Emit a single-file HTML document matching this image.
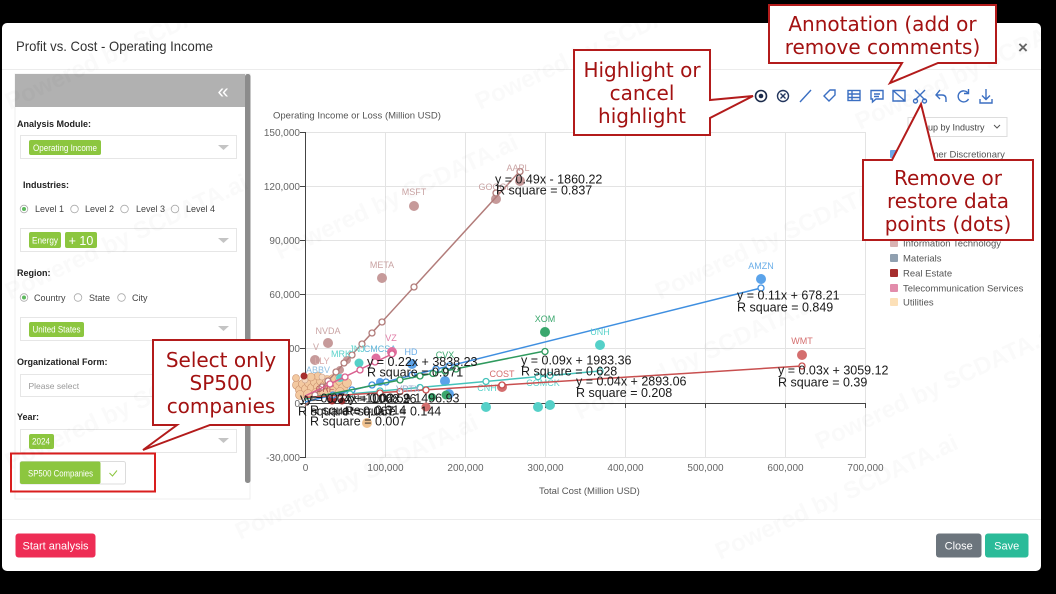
<!DOCTYPE html>
<html><head><meta charset="utf-8">
<style>
html,body{margin:0;padding:0;background:#000;width:1056px;height:594px;overflow:hidden}
svg{display:block}
text{font-family:"Liberation Sans",Arial,sans-serif}
.co{font-family:"DejaVu Sans","Liberation Sans",sans-serif;font-size:20px;fill:#a31212;text-anchor:middle}
.lb{font-size:9px;font-weight:bold;fill:#222}
.rt{font-size:9px;fill:#444}
.tk{font-size:10px;fill:#666}
.eq{font-size:12.5px;fill:#1a1a1a}
.tg{font-size:9px;fill:#fff}
.wm{font-family:"Liberation Serif",serif;font-weight:bold;font-size:24px;fill:#000;opacity:0.022}
.lg{font-size:9.5px;fill:#555}
</style></head><body>
<svg width="1056" height="594" viewBox="0 0 1056 594" xmlns="http://www.w3.org/2000/svg">
<rect x="0" y="0" width="1056" height="594" fill="#000"/>
<rect x="2" y="23" width="1039" height="548" rx="5" fill="#fff"/>

<!-- header -->
<text x="16" y="51" font-size="14" fill="#333" textLength="197" lengthAdjust="spacingAndGlyphs">Profit vs. Cost - Operating Income</text>
<text x="1023" y="53" font-size="17" font-weight="bold" fill="#666" text-anchor="middle">×</text>
<line x1="2" y1="69.5" x2="1041" y2="69.5" stroke="#ececec"/>
<line x1="2" y1="519.5" x2="1041" y2="519.5" stroke="#ececec"/>

<!-- left panel -->
<rect x="15" y="74" width="235" height="425" fill="#fff" stroke="#efefef"/>
<rect x="15" y="74" width="230" height="33" fill="#b1b1b1"/>
<text x="223" y="98" font-size="20" fill="#fff" text-anchor="middle">«</text>
<rect x="245" y="74" width="5.5" height="409" rx="2.5" fill="#8c8c8c"/>

<text x="17" y="127" class="lb">Analysis Module:</text>
<rect x="20.5" y="135.5" width="216" height="23" fill="#fff" stroke="#e6e6e6"/>
<rect x="29" y="140" width="72" height="15" rx="2" fill="#8cc63f"/>
<text x="33" y="151" class="tg" textLength="64" lengthAdjust="spacingAndGlyphs">Operating Income</text>
<path d="M218,145 L229,145 L223.5,150 Z" fill="#c4c4c4"/>

<text x="23" y="188" class="lb">Industries:</text>
<circle cx="24" cy="209" r="3.8" fill="#fff" stroke="#aaa" stroke-width="0.8"/><circle cx="24" cy="209" r="2" fill="#5cb85c"/>
<text x="35" y="212" class="rt">Level 1</text>
<circle cx="74.5" cy="209" r="3.8" fill="#fff" stroke="#aaa" stroke-width="0.8"/>
<text x="85" y="212" class="rt">Level 2</text>
<circle cx="124.5" cy="209" r="3.8" fill="#fff" stroke="#aaa" stroke-width="0.8"/>
<text x="136" y="212" class="rt">Level 3</text>
<circle cx="175" cy="209" r="3.8" fill="#fff" stroke="#aaa" stroke-width="0.8"/>
<text x="186" y="212" class="rt">Level 4</text>
<rect x="20.5" y="228.5" width="216" height="23" fill="#fff" stroke="#e6e6e6"/>
<rect x="29" y="232" width="32" height="16" rx="2" fill="#8cc63f"/>
<text x="32" y="243.5" class="tg" textLength="26" lengthAdjust="spacingAndGlyphs">Energy</text>
<rect x="65" y="232" width="32" height="16" rx="2" fill="#8cc63f"/>
<text x="81" y="245" font-size="12.5" fill="#fff" text-anchor="middle">+ 10</text>
<path d="M218,238 L229,238 L223.5,243 Z" fill="#c4c4c4"/>

<text x="17" y="276" class="lb">Region:</text>
<circle cx="24" cy="297.5" r="3.8" fill="#fff" stroke="#aaa" stroke-width="0.8"/><circle cx="24" cy="297.5" r="2" fill="#5cb85c"/>
<text x="34" y="301" class="rt">Country</text>
<circle cx="78" cy="297.5" r="3.8" fill="#fff" stroke="#aaa" stroke-width="0.8"/>
<text x="89" y="301" class="rt">State</text>
<circle cx="121.5" cy="297.5" r="3.8" fill="#fff" stroke="#aaa" stroke-width="0.8"/>
<text x="132" y="301" class="rt">City</text>
<rect x="20.5" y="317.5" width="216" height="23" fill="#fff" stroke="#e6e6e6"/>
<rect x="29" y="322" width="55" height="15" rx="2" fill="#8cc63f"/>
<text x="32.5" y="332.5" class="tg" textLength="48" lengthAdjust="spacingAndGlyphs">United States</text>
<path d="M218,326 L229,326 L223.5,331 Z" fill="#c4c4c4"/>

<text x="17" y="365" class="lb">Organizational Form:</text>
<rect x="20.5" y="374.5" width="216" height="22" fill="#fff" stroke="#e6e6e6"/>
<text x="28.5" y="389" font-size="8.5" fill="#999">Please select</text>

<text x="17" y="420" class="lb">Year:</text>
<rect x="20.5" y="429.5" width="216" height="23" fill="#fff" stroke="#e6e6e6"/>
<rect x="29" y="434" width="25" height="15" rx="2" fill="#8cc63f"/>
<text x="32" y="444.5" class="tg" textLength="18" lengthAdjust="spacingAndGlyphs">2024</text>
<path d="M218,438 L229,438 L223.5,443 Z" fill="#c4c4c4"/>

<rect x="20" y="461.5" width="105.5" height="22.5" rx="2" fill="#fff" stroke="#dcdcdc"/>
<rect x="20" y="461.5" width="80.5" height="22.5" rx="2" fill="#8cc63f"/>
<text x="28" y="476.5" font-size="9" fill="#fff" textLength="65" lengthAdjust="spacingAndGlyphs">SP500 Companies</text>
<path d="M109.5,473 L112.5,476 L117,470.5" fill="none" stroke="#8cc63f" stroke-width="1"/>
<rect x="11" y="453.5" width="144" height="38" fill="none" stroke="#d91e1e" stroke-width="2"/>

<!-- footer buttons -->
<rect x="15.5" y="533.5" width="80" height="24" rx="3" fill="#ee2d55"/>
<text x="55.5" y="549.5" font-size="11" fill="#fff" text-anchor="middle">Start analysis</text>
<rect x="936" y="533.5" width="45.5" height="24" rx="3" fill="#6c757d"/>
<text x="958.7" y="549.5" font-size="11" fill="#fff" text-anchor="middle">Close</text>
<rect x="985" y="533.5" width="43.5" height="24" rx="3" fill="#2bbb99"/>
<text x="1006.7" y="549.5" font-size="11" fill="#fff" text-anchor="middle">Save</text>

<!-- chart grid -->
<g stroke="#e3e3e3" stroke-width="1">
<line x1="305.5" y1="132.5" x2="866" y2="132.5"/>
<line x1="305.5" y1="186.5" x2="866" y2="186.5"/>
<line x1="305.5" y1="240.5" x2="866" y2="240.5"/>
<line x1="305.5" y1="294.5" x2="866" y2="294.5"/>
<line x1="305.5" y1="348.5" x2="866" y2="348.5"/>
<line x1="305.5" y1="457.5" x2="866" y2="457.5"/>
<line x1="385.5" y1="132" x2="385.5" y2="457"/>
<line x1="465.5" y1="132" x2="465.5" y2="457"/>
<line x1="545.5" y1="132" x2="545.5" y2="457"/>
<line x1="625.5" y1="132" x2="625.5" y2="457"/>
<line x1="705.5" y1="132" x2="705.5" y2="457"/>
<line x1="785.5" y1="132" x2="785.5" y2="457"/>
<line x1="865.5" y1="132" x2="865.5" y2="457"/>
</g>
<g stroke="#444" stroke-width="1">
<line x1="305.5" y1="132" x2="305.5" y2="458"/>
<line x1="305" y1="403.5" x2="866" y2="403.5"/>
<line x1="300" y1="132.5" x2="305" y2="132.5"/>
<line x1="300" y1="186.5" x2="305" y2="186.5"/>
<line x1="300" y1="240.5" x2="305" y2="240.5"/>
<line x1="300" y1="294.5" x2="305" y2="294.5"/>
<line x1="300" y1="348.5" x2="305" y2="348.5"/>
<line x1="300" y1="403.5" x2="305" y2="403.5"/>
<line x1="300" y1="457.5" x2="305" y2="457.5"/>
<line x1="385.5" y1="403" x2="385.5" y2="408"/>
<line x1="465.5" y1="403" x2="465.5" y2="408"/>
<line x1="545.5" y1="403" x2="545.5" y2="408"/>
<line x1="625.5" y1="403" x2="625.5" y2="408"/>
<line x1="705.5" y1="403" x2="705.5" y2="408"/>
<line x1="785.5" y1="403" x2="785.5" y2="408"/>
<line x1="865.5" y1="403" x2="865.5" y2="408"/>
</g>
<g class="tk" text-anchor="end">
<text x="300" y="136">150,000</text>
<text x="300" y="190">120,000</text>
<text x="300" y="244">90,000</text>
<text x="300" y="298">60,000</text>
<text x="300" y="352">30,000</text>
<text x="300" y="407">0</text>
<text x="300" y="461">-30,000</text>
</g>
<g class="tk" text-anchor="middle">
<text x="305.5" y="471">0</text>
<text x="385.5" y="471">100,000</text>
<text x="465.5" y="471">200,000</text>
<text x="545.5" y="471">300,000</text>
<text x="625.5" y="471">400,000</text>
<text x="705.5" y="471">500,000</text>
<text x="785.5" y="471">600,000</text>
<text x="865.5" y="471">700,000</text>
</g>
<text x="273" y="118.5" font-size="9.5" fill="#555">Operating Income or Loss (Million USD)</text>
<text x="539" y="494" font-size="9.5" fill="#555">Total Cost (Million USD)</text>

<!-- toolbar -->
<g fill="none" stroke="#3b6fc2" stroke-width="1.4">
<circle cx="761" cy="96" r="5.5" stroke="#1b2a4a" stroke-width="1.6"/>
<circle cx="761" cy="96" r="2.3" fill="#1b2a4a" stroke="none"/>
<circle cx="783" cy="96" r="5.5" stroke="#23365e"/>
<path d="M780.5,93.5 L785.5,98.5 M785.5,93.5 L780.5,98.5" stroke="#23365e"/>
<path d="M800,102 L811,90"/>
<path d="M824,96 L830,90 L835,90 L835,95 L829,101 Z"/>
<rect x="848" y="90.5" width="12" height="10"/>
<path d="M848,94 H860 M848,97.5 H860 M852,90.5 V100.5"/>
<path d="M871,90.5 H883 V99 H876 L872.5,102 V99 H871 Z"/>
<path d="M874,94 H880 M874,96.5 H879"/>
<path d="M893,90.5 H905 V101 H893 Z M893,90.5 L905,101"/>
<path d="M915,90 L925,100 M925,90 L915,100"/>
<circle cx="915.5" cy="101" r="2"/><circle cx="924.5" cy="101" r="2"/>
<path d="M940,90 L936,95 L940,99 M936,95 H942 Q946,95 946,99 V102"/>
<path d="M968,93 A5.5,5.5 0 1 0 968.5,99"/>
<path d="M968.5,89 V93.5 H964"/>
<path d="M986,89 V99 M982,95.5 L986,99.5 L990,95.5 M980,99 V103 H992 V99"/>
</g>

<!-- group by dropdown -->
<rect x="908" y="117.5" width="99" height="19" fill="#fff" stroke="#ddd"/>
<text x="913" y="130.5" font-size="9" fill="#444">Group by Industry</text>
<path d="M994,125 L997,128 L1000,125" fill="none" stroke="#555" stroke-width="1"/>

<!-- legend -->
<g class="lg">
<rect x="890" y="150" width="8" height="8" rx="1" fill="#6aa8e8"/><text x="903" y="157.5">Consumer Discretionary</text>
<rect x="890" y="165" width="8" height="8" rx="1" fill="#d46e6e"/><text x="903" y="172.5">Consumer Staples</text>
<rect x="890" y="180" width="8" height="8" rx="1" fill="#3aa76d"/><text x="903" y="187.5">Energy</text>
<rect x="890" y="195" width="8" height="8" rx="1" fill="#8a6fc0"/><text x="903" y="202.5">Financials</text>
<rect x="890" y="209" width="8" height="8" rx="1" fill="#52d1c8"/><text x="903" y="216.5">Health Care</text>
<rect x="890" y="224" width="8" height="8" rx="1" fill="#7fb3d5"/><text x="903" y="231.5">Industrials</text>
<rect x="890" y="239" width="8" height="8" rx="1" fill="#d9b3b3"/><text x="903" y="246.5">Information Technology</text>
<rect x="890" y="254" width="8" height="8" rx="1" fill="#90a0b0"/><text x="903" y="261.5">Materials</text>
<rect x="890" y="269" width="8" height="8" rx="1" fill="#a62e2e"/><text x="903" y="276.5">Real Estate</text>
<rect x="890" y="284" width="8" height="8" rx="1" fill="#e28cab"/><text x="903" y="291.5">Telecommunication Services</text>
<rect x="890" y="298" width="8" height="8" rx="1" fill="#fce0b8"/><text x="903" y="305.5">Utilities</text>
</g>

<!-- data: peach cluster near origin -->
<g fill="#f3c9a0" stroke="#c98f6c" stroke-width="0.6">
<circle cx="297" cy="385" r="4.5"/><circle cx="300" cy="390" r="4.5"/><circle cx="303" cy="384" r="4.5"/>
<circle cx="306" cy="389" r="4.5"/><circle cx="309" cy="383" r="4.5"/><circle cx="312" cy="388" r="4.5"/>
<circle cx="315" cy="382" r="4.5"/><circle cx="318" cy="387" r="4.5"/><circle cx="321" cy="381" r="4.5"/>
<circle cx="324" cy="386" r="4.5"/><circle cx="327" cy="380" r="4.5"/><circle cx="330" cy="385" r="4.5"/>
<circle cx="333" cy="379" r="4.5"/><circle cx="336" cy="386" r="4.5"/><circle cx="340" cy="381" r="4.5"/>
<circle cx="343" cy="388" r="4.5"/><circle cx="347" cy="383" r="4.5"/><circle cx="300" cy="395" r="4.5"/>
<circle cx="308" cy="394" r="4.5"/><circle cx="316" cy="393" r="4.5"/><circle cx="324" cy="392" r="4.5"/>
<circle cx="332" cy="391" r="4.5"/><circle cx="340" cy="392" r="4.5"/><circle cx="296" cy="378" r="3.5"/>
<circle cx="318" cy="376" r="4"/><circle cx="311" cy="377" r="4"/><circle cx="367" cy="423" r="5" stroke="none" fill="#f0c290"/>
</g>
<g fill="#f6d9c0" stroke="#caa08a" stroke-width="0.6">
<circle cx="305" cy="380" r="3"/><circle cx="322" cy="377" r="3"/><circle cx="338" cy="378" r="3"/><circle cx="313" cy="398" r="3"/>
</g>
<!-- dark red / real estate -->
<circle cx="332" cy="400" r="4.5" fill="#a62e2e"/><circle cx="342" cy="401" r="3.5" fill="#8f2a2a"/>
<circle cx="304" cy="376" r="3.5" fill="#a62e2e"/>

<!-- Info Tech -->
<g fill="#c69a9a">
<circle cx="520" cy="181" r="5"/><circle cx="496" cy="199" r="5"/><circle cx="414" cy="206" r="5"/>
<circle cx="382" cy="278" r="5"/><circle cx="328" cy="343" r="5"/><circle cx="315" cy="360" r="5"/>
<circle cx="347" cy="360" r="4"/><circle cx="340" cy="370" r="4"/>
</g>
<line x1="305" y1="406" x2="520" y2="171" stroke="#b27c7a" stroke-width="1.5"/>
<g fill="#fff" stroke="#b27c7a" stroke-width="1.3">
<circle cx="520" cy="171.5" r="3"/><circle cx="496" cy="193" r="3"/><circle cx="414" cy="287" r="3"/>
<circle cx="382" cy="322" r="3"/><circle cx="372" cy="333" r="3"/><circle cx="362" cy="344" r="3"/>
<circle cx="352" cy="355" r="3"/><circle cx="344" cy="363" r="3"/><circle cx="336" cy="372" r="3"/>
<circle cx="328" cy="381" r="3"/><circle cx="322" cy="387" r="3"/><circle cx="315" cy="395" r="3"/>
</g>
<g font-size="9" fill="#c9a3a3" text-anchor="middle">
<text x="518" y="171">AAPL</text><text x="495" y="190">GOOGL</text><text x="414" y="195">MSFT</text>
<text x="382" y="268">META</text><text x="328" y="334">NVDA</text><text x="316" y="350">V</text>
</g>

<!-- Consumer Discretionary -->
<g fill="#5ba3ea">
<circle cx="761" cy="279" r="5"/><circle cx="412" cy="364" r="5"/><circle cx="445" cy="381" r="5"/>
<circle cx="449" cy="394" r="5"/><circle cx="380" cy="382" r="4"/>
</g>
<line x1="305" y1="402" x2="761" y2="288" stroke="#3f8fe0" stroke-width="1.5"/>
<g fill="#fff" stroke="#3f8fe0" stroke-width="1.3">
<circle cx="761" cy="288" r="3"/><circle cx="449" cy="366" r="3"/><circle cx="436" cy="369" r="3"/>
<circle cx="412" cy="375" r="3"/><circle cx="386" cy="382" r="3"/><circle cx="372" cy="385" r="3"/>
<circle cx="352" cy="390" r="3"/><circle cx="333" cy="395" r="3"/>
</g>
<g font-size="9" fill="#6aaee8" text-anchor="middle">
<text x="761" y="269">AMZN</text><text x="411" y="355">HD</text>
</g>

<!-- Energy -->
<g fill="#3aa76d">
<circle cx="545" cy="332" r="5"/><circle cx="446" cy="395" r="4.5"/><circle cx="432" cy="397" r="4"/>
</g>
<line x1="305" y1="399" x2="545" y2="351" stroke="#2f9a5e" stroke-width="1.5"/>
<g fill="#fff" stroke="#2f9a5e" stroke-width="1.3">
<circle cx="545" cy="351.5" r="3"/><circle cx="456" cy="369" r="3"/><circle cx="445" cy="371" r="3"/>
<circle cx="433" cy="373.5" r="3"/><circle cx="420" cy="376" r="3"/><circle cx="400" cy="380" r="3"/>
</g>
<g font-size="9" fill="#3aa76d" text-anchor="middle">
<text x="545" y="322">XOM</text><text x="445" y="358">CVX</text>
</g>

<!-- Health Care -->
<g fill="#55d0c8">
<circle cx="600" cy="345" r="5"/><circle cx="486" cy="407" r="5"/><circle cx="538" cy="407" r="5"/>
<circle cx="550" cy="405" r="5"/><circle cx="359" cy="363" r="4.5"/><circle cx="340" cy="378" r="4"/>
</g>
<line x1="305" y1="398" x2="600" y2="371" stroke="#45c3bb" stroke-width="1.5"/>
<g fill="#fff" stroke="#45c3bb" stroke-width="1.3">
<circle cx="600" cy="371" r="3"/><circle cx="550" cy="375.5" r="3"/><circle cx="538" cy="376.7" r="3"/>
<circle cx="486" cy="381.5" r="3"/><circle cx="420" cy="387.5" r="3"/><circle cx="380" cy="391" r="3"/>
<circle cx="350" cy="394" r="3"/>
</g>
<g font-size="9" fill="#5bd3cb" text-anchor="middle">
<text x="600" y="335">UNH</text><text x="487" y="391">CNH</text><text x="543" y="386">COMCK</text>
<text x="341" y="357">MRK</text><text x="357" y="352">JNJ</text><text x="380" y="352" fill="#5fb5d8">CMCSA</text>
<text x="322" y="364" fill="#d9a9a9">LLY</text><text x="318" y="373" fill="#8fbfe0">ABBV</text>
</g>

<!-- Consumer Staples -->
<g fill="#d46e6e">
<circle cx="802" cy="355" r="5"/><circle cx="502" cy="387" r="5"/><circle cx="426" cy="407" r="4.5"/>
</g>
<line x1="305" y1="397.5" x2="802" y2="366" stroke="#c84f4f" stroke-width="1.5"/>
<g fill="#fff" stroke="#c84f4f" stroke-width="1.3">
<circle cx="802" cy="366" r="3"/><circle cx="502" cy="385" r="3"/><circle cx="426" cy="390" r="3"/>
<circle cx="400" cy="391.5" r="3"/><circle cx="380" cy="393" r="3"/>
</g>
<g font-size="9" fill="#d46e6e" text-anchor="middle">
<text x="802" y="344">WMT</text><text x="502" y="377">COST</text><text x="408" y="392" fill="#9ac">VRTX</text><text x="325" y="392" fill="#b55">CRF</text>
</g>

<!-- Telecom -->
<g fill="#e0709f">
<circle cx="392" cy="352" r="5"/><circle cx="376" cy="358" r="4.5"/>
</g>
<line x1="305" y1="396" x2="392" y2="354" stroke="#d9608f" stroke-width="1.5"/>
<g fill="#fff" stroke="#d9608f" stroke-width="1.3">
<circle cx="392" cy="354" r="3"/><circle cx="375" cy="362" r="3"/><circle cx="360" cy="370" r="3"/>
<circle cx="345" cy="377" r="3"/><circle cx="330" cy="384" r="3"/>
</g>
<text x="391" y="341" font-size="9" fill="#e07aa5" text-anchor="middle">VZ</text>

<!-- equations -->
<g class="eq">
<text x="495" y="183.5">y = 0.49x - 1860.22</text>
<text x="496" y="194.5">R square = 0.837</text>
<text x="737" y="299.5">y = 0.11x + 678.21</text>
<text x="737" y="311.5">R square = 0.849</text>
<text x="778" y="374.5">y = 0.03x + 3059.12</text>
<text x="778" y="386.5">R square = 0.39</text>
<text x="576" y="385.5">y = 0.04x + 2893.06</text>
<text x="576" y="397">R square = 0.208</text>
<text x="521" y="364.5">y = 0.09x + 1983.36</text>
<text x="521" y="375.5">R square = 0.628</text>
<text x="367" y="366">y = 0.22x + 3838.23</text>
<text x="367" y="376.5">R square = 0.971</text>
<text x="300" y="402.5">y = 0.07x + 1006.59</text>
<text x="306" y="403">y = 0.04x + 1008.26</text>
<text x="349" y="402.5">y = 0.02x + 1496.93</text>
<text x="298" y="415.5">R square = 0.067</text>
<text x="310" y="414.5">R square = 0.314</text>
<text x="345" y="415.5">R square = 0.144</text>
<text x="310" y="425.5">R square = 0.007</text>
</g>

<!-- watermarks -->
<g class="wm">
<text transform="translate(10,110) rotate(-25)">Powered by SCDATA.ai</text>
<text transform="translate(10,300) rotate(-25)">Powered by SCDATA.ai</text>
<text transform="translate(10,470) rotate(-25)">Powered by SCDATA.ai</text>
<text transform="translate(280,260) rotate(-25)">Powered by SCDATA.ai</text>
<text transform="translate(480,110) rotate(-25)">Powered by SCDATA.ai</text>
<text transform="translate(580,420) rotate(-25)">Powered by SCDATA.ai</text>
<text transform="translate(660,300) rotate(-25)">Powered by SCDATA.ai</text>
<text transform="translate(820,450) rotate(-25)">Powered by SCDATA.ai</text>
<text transform="translate(860,130) rotate(-25)">Powered by SCDATA.ai</text>
<text transform="translate(240,540) rotate(-25)">Powered by SCDATA.ai</text>
<text transform="translate(720,560) rotate(-25)">Powered by SCDATA.ai</text>
</g>

<!-- callouts -->
<g fill="#fff" stroke="#b31b1b" stroke-width="2" stroke-linejoin="miter">
<path d="M769,5 H996 V63 H938 L890,83 L902,63 H769 Z"/>
<path d="M574,50 H710 V100 L753,96 L710,118 V135 H574 Z"/>
<path d="M863,160 H892 L921,104 L935,160 H1033 V240 H863 Z"/>
<path d="M153,340 H289 V425 H210 L143,450 L177,425 H153 Z"/>
</g>
<text class="co" x="882.5" y="31">Annotation (add or</text>
<text class="co" x="882.5" y="54">remove comments)</text>
<text class="co" x="642" y="77">Highlight or</text>
<text class="co" x="642" y="100">cancel</text>
<text class="co" x="642" y="123">highlight</text>
<text class="co" x="948" y="185">Remove or</text>
<text class="co" x="948" y="208">restore data</text>
<text class="co" x="948" y="231">points (dots)</text>
<text class="co" x="221" y="367">Select only</text>
<text class="co" x="221" y="390">SP500</text>
<text class="co" x="221" y="413">companies</text>
</svg>
</body></html>
